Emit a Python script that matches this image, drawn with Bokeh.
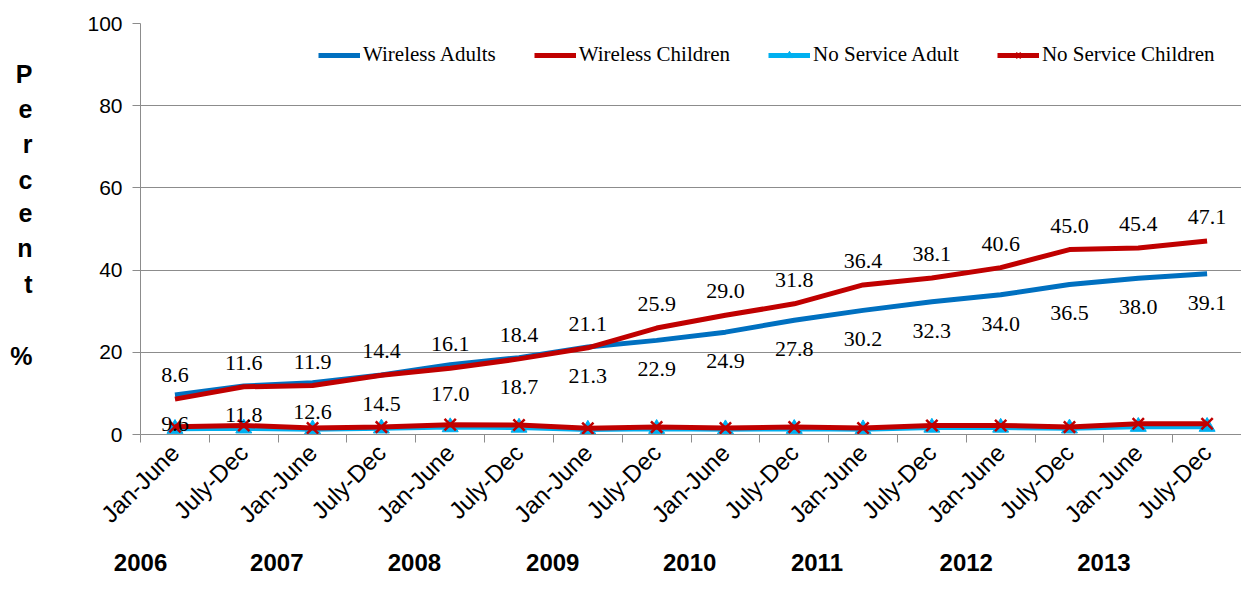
from bokeh.plotting import figure
from bokeh.models import (ColumnDataSource, FixedTicker, LinearAxis, LabelSet,
                          Legend, LegendItem, Range1d)
from bokeh.embed import file_html
from bokeh.resources import INLINE
import math

periods = ["Jan-June", "July-Dec"] * 8
wireless_adults = [9.6, 11.8, 12.6, 14.5, 17.0, 18.7, 21.3, 22.9, 24.9, 27.8, 30.2, 32.3, 34.0, 36.5, 38.0, 39.1]
wireless_children = [8.6, 11.6, 11.9, 14.4, 16.1, 18.4, 21.1, 25.9, 29.0, 31.8, 36.4, 38.1, 40.6, 45.0, 45.4, 47.1]
no_service_adult = [1.4, 1.5, 1.3, 1.5, 1.8, 1.7, 1.2, 1.4, 1.3, 1.4, 1.3, 1.7, 1.7, 1.5, 1.9, 1.9]
no_service_children = [1.9, 2.2, 1.6, 1.8, 2.4, 2.3, 1.5, 1.8, 1.6, 1.8, 1.6, 2.2, 2.2, 1.8, 2.6, 2.6]
years = ["2006", "2007", "2008", "2009", "2010", "2011", "2012", "2013"]
# layout: where each year caption sits along the category axis
year_label_pos = [0.0, 1.98, 3.98, 5.99, 7.98, 9.83, 12.0, 14.0]
y_title_letters = ["P", "e", "r", "c", "e", "n", "t", "%"]
# layout: vertical placement of the stacked title letters (in axis units)
y_title_pos = [87.8, 79.3, 70.8, 62.0, 53.8, 45.3, 36.7, 19.0]

BLUE = "#0070C0"
RED = "#C00000"
CYAN = "#00B0F0"
GRID = "#8C8C8C"

W, H = 1241, 581
x = [i + 0.5 for i in range(len(periods))]
src = ColumnDataSource(dict(
    x=x, wa=wireless_adults, wc=wireless_children, na=no_service_adult, nc=no_service_children,
    wa_t=[f"{v:.1f}" for v in wireless_adults], wc_t=[f"{v:.1f}" for v in wireless_children]))

p = figure(width=W, height=H, output_backend="svg", toolbar_location=None,
           x_range=Range1d(-0.001, len(periods)), y_range=Range1d(0, 100),
           min_border_left=140, min_border_right=0, min_border_top=23, min_border_bottom=H - 434,
           x_axis_location=None, y_axis_location=None)
p.outline_line_color = None
p.background_fill_color = "white"

# y axis
yax = LinearAxis(ticker=FixedTicker(ticks=[0, 20, 40, 60, 80, 100]))
yax.axis_line_color = GRID
yax.major_tick_line_color = GRID
yax.major_tick_out = 8
yax.major_tick_in = 0
yax.minor_tick_line_color = None
yax.major_label_text_font = "Liberation Sans"
yax.major_label_text_font_size = "21px"
yax.major_label_text_color = "black"
yax.major_label_standoff = 10
p.add_layout(yax, "left")

# stacked "Percent %" title as a second left axis
tax = LinearAxis(ticker=FixedTicker(ticks=y_title_pos))
tax.major_label_overrides = {v: y_title_letters[i] for i, v in enumerate(y_title_pos)}
tax.axis_line_color = None
tax.major_tick_line_color = None
tax.minor_tick_line_color = None
tax.major_tick_out = 0
tax.major_tick_in = 0
tax.major_label_text_font = "Liberation Sans"
tax.major_label_text_font_style = "bold"
tax.major_label_text_font_size = "25px"
tax.major_label_text_color = "black"
tax.major_label_standoff = 52
p.add_layout(tax, "left")

# x axis with category labels and boundary ticks
xax = LinearAxis(ticker=FixedTicker(ticks=x, minor_ticks=list(range(len(periods) + 1))))
xax.major_label_overrides = {v: periods[i] for i, v in enumerate(x)}
xax.axis_line_color = GRID
xax.major_tick_line_color = None
xax.major_tick_out = 8
xax.major_tick_in = 0
xax.minor_tick_line_color = GRID
xax.minor_tick_out = 8
xax.minor_tick_in = 0
xax.major_label_orientation = math.pi / 4
xax.major_label_text_font = "Liberation Sans"
xax.major_label_text_font_size = "24px"
xax.major_label_text_color = "black"
xax.major_label_standoff = 6
p.add_layout(xax, "below")

# year captions as a second bottom axis
yrax = LinearAxis(ticker=FixedTicker(ticks=year_label_pos))
yrax.major_label_overrides = {v: years[i] for i, v in enumerate(year_label_pos)}
yrax.axis_line_color = None
yrax.major_tick_line_color = None
yrax.minor_tick_line_color = None
yrax.major_tick_out = 0
yrax.major_tick_in = 0
yrax.major_label_text_font = "Liberation Sans"
yrax.major_label_text_font_style = "bold"
yrax.major_label_text_font_size = "24px"
yrax.major_label_text_color = "black"
yrax.major_label_standoff = 13
p.add_layout(yrax, "below")

p.xgrid.visible = False
p.ygrid.ticker = FixedTicker(ticks=[20, 40, 60, 80, 100])
p.ygrid.grid_line_color = GRID
p.ygrid.grid_line_width = 1

r_wa = p.line("x", "wa", source=src, line_color=BLUE, line_width=5)
r_wc = p.line("x", "wc", source=src, line_color=RED, line_width=5)
r_na_l = p.line("x", "na", source=src, line_color=CYAN, line_width=5)
r_na_m = p.scatter("x", "na", source=src, marker="triangle", size=16, fill_color=CYAN, line_color=CYAN)
r_nc_l = p.line("x", "nc", source=src, line_color=RED, line_width=5)
r_nc_m = p.scatter("x", "nc", source=src, marker="x", size=16, line_color=RED, line_width=2.5)

lbl_font = "Liberation Serif"
p.add_layout(LabelSet(x="x", y="wc", text="wc_t", source=src, y_offset=24, text_align="center",
                      text_baseline="middle", text_font=lbl_font, text_font_size="22px", text_color="black"))
p.add_layout(LabelSet(x="x", y="wa", text="wa_t", source=src, y_offset=-29, text_align="center",
                      text_baseline="middle", text_font=lbl_font, text_font_size="22px", text_color="black"))

legend = Legend(items=[
    LegendItem(label="Wireless Adults", renderers=[r_wa]),
    LegendItem(label="Wireless Children", renderers=[r_wc]),
    LegendItem(label="No Service Adult", renderers=[r_na_l, r_na_m]),
    LegendItem(label="No Service Children", renderers=[r_nc_l, r_nc_m]),
], orientation="horizontal", location=(178, 367))
legend.border_line_color = None
legend.background_fill_alpha = 0
legend.label_text_font = lbl_font
legend.label_text_font_size = "21px"
legend.label_text_color = "black"
legend.glyph_width = 42
legend.glyph_height = 18
legend.label_standoff = 3
legend.spacing = 38
legend.padding = 0
legend.margin = 0
p.add_layout(legend, "center")

open("out.html", "w").write(file_html(p, INLINE))
